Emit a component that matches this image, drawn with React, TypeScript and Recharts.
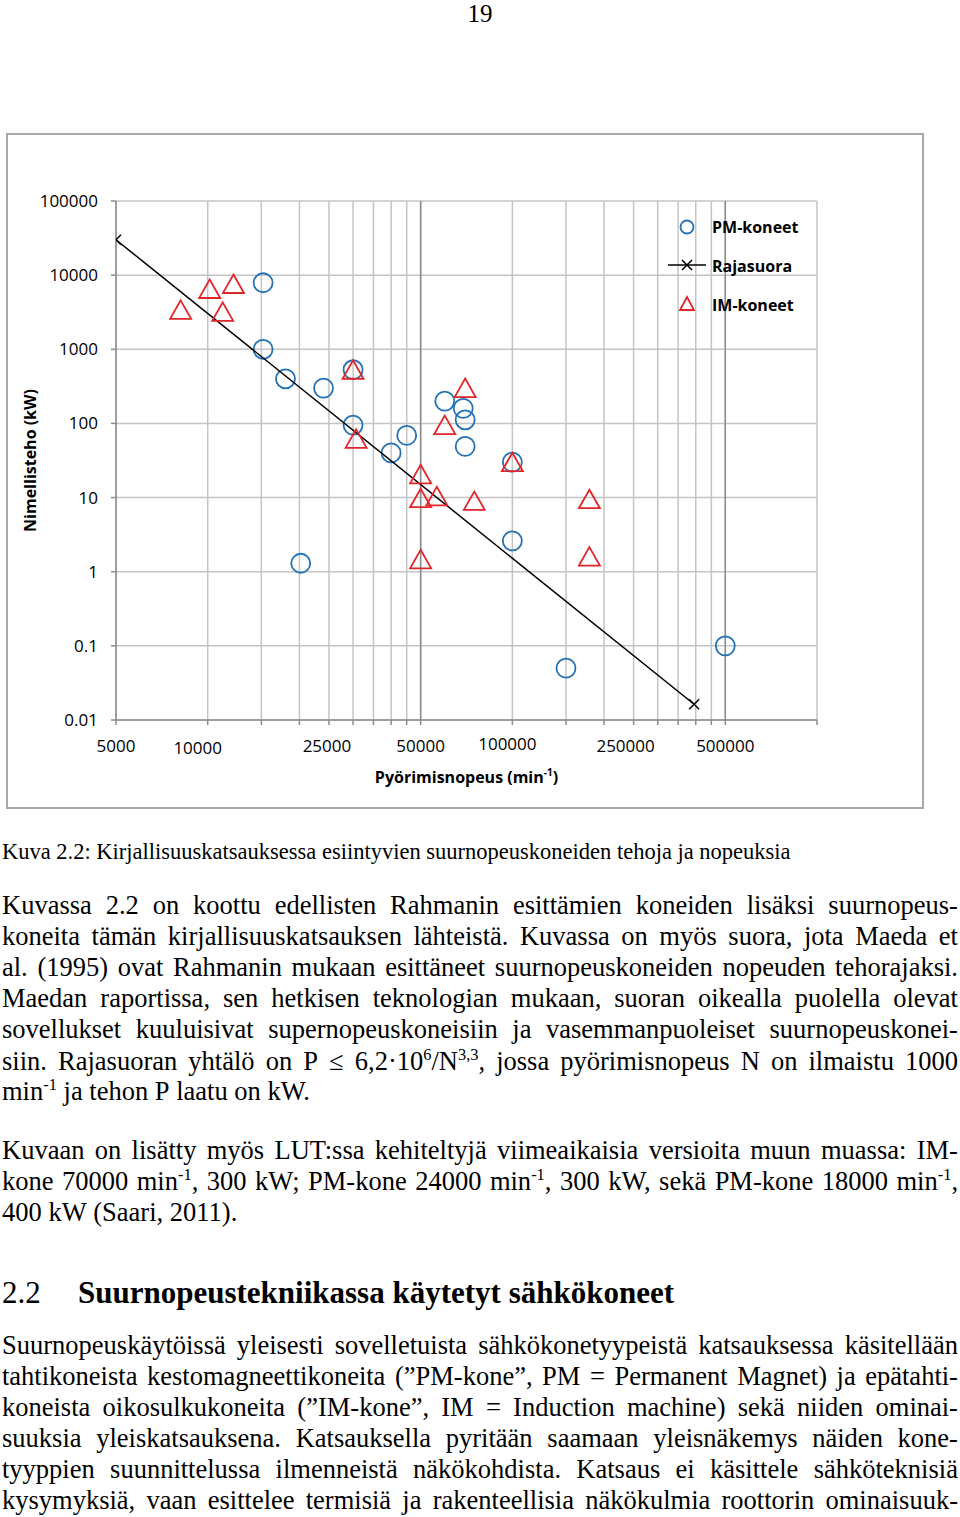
import React from 'react'
import { ScatterChart, Scatter, XAxis, YAxis, CartesianGrid, ReferenceLine, Legend, Label } from 'recharts'

// PM-koneet (blue circles)
const pmSpeed = [15200, 15200, 18000, 24000, 30000, 30000, 20200, 40000, 45000, 60000, 69000, 70000, 70000, 100000, 100000, 150000, 500000]
const pmPower = [7900, 1000, 400, 300, 530, 95, 1.3, 40, 69, 200, 160, 112, 49, 30, 2.6, 0.05, 0.1]

// IM-koneet (red triangles)
const imSpeed = [8150, 10150, 12150, 11200, 30000, 30700, 70000, 60000, 50000, 50000, 56500, 50000, 75000, 100000, 179000, 179000]
const imPower = [3400, 6500, 7600, 3200, 530, 62, 300, 95, 20.6, 9.8, 10.4, 1.47, 9, 30, 9.5, 1.6]

// Rajasuora end points
const rajaSpeed = [5000, 395000]
const rajaPower = [30000, 0.0163]

const seriesNames = ['PM-koneet', 'Rajasuora', 'IM-koneet']

const xGridTicks = [
  5000, 10000, 15000, 20000, 25000, 30000, 35000, 40000, 45000, 50000,
  100000, 150000, 200000, 250000, 300000, 350000, 400000, 450000, 500000, 1000000,
]
const xLabelTicks = [5000, 10000, 25000, 50000, 100000, 250000, 500000]
const xMajor = [50000, 500000]
const yTicks = [0.01, 0.1, 1, 10, 100, 1000, 10000, 100000]

const pmData = pmSpeed.map((n, i) => ({ n, p: pmPower[i] }))
const imData = imSpeed.map((n, i) => ({ n, p: imPower[i] }))
const rajaData = rajaSpeed.map((n, i) => ({ n, p: rajaPower[i] }))

const BLUE = '#2472b4'
const RED = '#e0262b'
const SANS = '"Open Sans", "Liberation Sans", sans-serif'
const SERIF = '"Liberation Serif", "Times New Roman", serif'

// small nudges so the x labels sit like the text boxes in the original
const labelShift: Record<number, [number, number]> = {
  10000: [-10, 2],
  25000: [-2, 0],
  100000: [-5, -2],
  250000: [-8, 0],
}

function XTick(props: any) {
  const { x, y, payload } = props
  const v = payload.value
  if (!xLabelTicks.includes(v)) return <g />
  const [dx, dy] = labelShift[v] ?? [0, 0]
  return (
    <text x={x + dx} y={y + dy} dy="0.71em" textAnchor="middle" fontSize={17} fontFamily={SANS} fill="#000">
      {v}
    </text>
  )
}

const Circle = (props: any) => (
  <circle cx={props.cx} cy={props.cy} r={9.5} fill="none" stroke={BLUE} strokeWidth={1.8} />
)
const Triangle = (props: any) => {
  const { cx, cy } = props
  return (
    <polygon
      points={`${cx},${cy - 9.5} ${cx + 10.5},${cy + 9} ${cx - 10.5},${cy + 9}`}
      fill="none"
      stroke={RED}
      strokeWidth={1.8}
    />
  )
}
const XMark = (props: any) => {
  const { cx, cy } = props
  return (
    <path d={`M${cx - 5},${cy - 5}L${cx + 5},${cy + 5}M${cx - 5},${cy + 5}L${cx + 5},${cy - 5}`} stroke="#000" strokeWidth={1.5} />
  )
}

function LegendBox() {
  return (
    <svg width={170} height={110} style={{ overflow: 'visible', display: 'block' }}>
      <circle cx={27} cy={17} r={6.5} fill="none" stroke={BLUE} strokeWidth={1.8} />
      <line x1={8} x2={46} y1={55} y2={55} stroke="#000" strokeWidth={1.5} />
      <path d="M22,50L32,60M22,60L32,50" stroke="#000" strokeWidth={1.5} />
      <polygon points="27,87 34,100 20,100" fill="none" stroke={RED} strokeWidth={1.8} />
      {seriesNames.map((s, i) => (
        <text key={s} x={52} y={17 + i * 39} dy="0.36em" fontSize={16} fontWeight="bold" fontFamily={SANS} fill="#000">
          {s}
        </text>
      ))}
    </svg>
  )
}

function YTitle(props: any) {
  const vb = props.viewBox
  const cy = vb.y + vb.height / 2
  return (
    <text x={30} y={cy} transform={`rotate(-90, 30, ${cy})`} textAnchor="middle" dy="0.36em" fontSize={16} fontWeight="bold" fontFamily={SANS} fill="#000">
      Nimellisteho (kW)
    </text>
  )
}

function XTitle(props: any) {
  const vb = props.viewBox
  const cx = vb.x + vb.width / 2
  return (
    <text x={cx} y={vb.y + 63} textAnchor="middle" fontSize={16} fontWeight="bold" fontFamily={SANS} fill="#000">
      Pyörimisnopeus (min
      <tspan dy={-7} fontSize={10}>-1</tspan>
      <tspan dy={7}>)</tspan>
    </text>
  )
}

// ---- page text ----
const caption = 'Kuva 2.2: Kirjallisuuskatsauksessa esiintyvien suurnopeuskoneiden tehoja ja nopeuksia'

const para1 = [
  'Kuvassa 2.2 on koottu edellisten Rahmanin esittämien koneiden lisäksi suurnopeus-',
  'koneita tämän kirjallisuuskatsauksen lähteistä. Kuvassa on myös suora, jota Maeda et',
  'al. (1995) ovat Rahmanin mukaan esittäneet suurnopeuskoneiden nopeuden tehorajaksi.',
  'Maedan raportissa, sen hetkisen teknologian mukaan, suoran oikealla puolella olevat',
  'sovellukset kuuluisivat supernopeuskoneisiin ja vasemmanpuoleiset suurnopeuskonei-',
  'siin. Rajasuoran yhtälö on P ≤ 6,2·10^{6}/N^{3,3}, jossa pyörimisnopeus N on ilmaistu 1000',
  'min^{-1} ja tehon P laatu on kW.',
]
const para1Y = [907, 938, 969, 1000, 1031, 1063, 1093]

const para2 = [
  'Kuvaan on lisätty myös LUT:ssa kehiteltyjä viimeaikaisia versioita muun muassa: IM-',
  'kone 70000 min^{-1}, 300 kW; PM-kone 24000 min^{-1}, 300 kW, sekä PM-kone 18000 min^{-1},',
  '400 kW (Saari, 2011).',
]
const para2Y = [1152, 1183, 1214]

const para3 = [
  'Suurnopeuskäytöissä yleisesti sovelletuista sähkökonetyypeistä katsauksessa käsitellään',
  'tahtikoneista kestomagneettikoneita (”PM-kone”, PM = Permanent Magnet) ja epätahti-',
  'koneista oikosulkukoneita (”IM-kone”, IM = Induction machine) sekä niiden ominai-',
  'suuksia yleiskatsauksena. Katsauksella pyritään saamaan yleisnäkemys näiden kone-',
  'tyyppien suunnittelussa ilmenneistä näkökohdista. Katsaus ei käsittele sähköteknisiä',
  'kysymyksiä, vaan esittelee termisiä ja rakenteellisia näkökulmia roottorin ominaisuuk-',
]
const para3Y = [1347, 1378, 1409, 1440, 1471, 1502]

function Word({ w }: { w: string }) {
  const parts = w.split(/(\^\{[^}]*\})/).filter(Boolean)
  return (
    <span>
      {parts.map((p, i) =>
        p.startsWith('^{') ? (
          <span key={i} style={{ fontSize: '0.62em', position: 'relative', top: '-0.6em' }}>
            {p.slice(2, -1)}
          </span>
        ) : (
          <span key={i}>{p}</span>
        ),
      )}
    </span>
  )
}

function TextLine({ text, cy, last, size = 26.5, width = 956 }: { text: string; cy: number; last?: boolean; size?: number; width?: number }) {
  const words = text.split(' ')
  return (
    <div
      style={{
        position: 'absolute',
        left: 2,
        top: cy - 17,
        width,
        height: 31,
        lineHeight: '31px',
        fontSize: size,
        fontFamily: SERIF,
        whiteSpace: 'nowrap',
        display: 'flex',
        justifyContent: last ? 'flex-start' : 'space-between',
        gap: last ? '0.25em' : 0,
      }}
    >
      {words.map((w, i) => (
        <Word key={i} w={w} />
      ))}
    </div>
  )
}

function Paragraph({ lines, ys, endsHere }: { lines: string[]; ys: number[]; endsHere: boolean }) {
  return (
    <>
      {lines.map((l, i) => (
        <TextLine key={i} text={l} cy={ys[i]} last={endsHere && i === lines.length - 1} />
      ))}
    </>
  )
}

export default function App() {
  return (
    <div style={{ position: 'absolute', left: 0, top: 0, width: 960, height: 1517, overflow: 'hidden', background: '#fff', color: '#000' }}>
      <div style={{ position: 'absolute', left: 0, top: 1, width: 960, textAlign: 'center', fontFamily: SERIF, fontSize: 25, lineHeight: '26px' }}>19</div>

      <div style={{ position: 'absolute', left: 6, top: 133, width: 918, height: 676, border: '2px solid #a8a8a8', boxSizing: 'border-box' }} />

      <div style={{ position: 'absolute', left: 0, top: 0 }}>
        <ScatterChart width={960} height={820} margin={{ top: 201, right: 143, bottom: 70, left: 56 }}>
          <CartesianGrid stroke="#c4c4c4" strokeWidth={1.5} />
          <XAxis
            dataKey="n"
            type="number"
            scale="log"
            domain={[5000, 1000000]}
            ticks={xGridTicks}
            interval={0}
            tick={<XTick />}
            tickSize={5}
            tickMargin={15}
            height={30}
            stroke="#8c8c8c"
            strokeWidth={1.5}
            allowDataOverflow
          >
            <Label content={<XTitle />} />
          </XAxis>
          <YAxis
            dataKey="p"
            type="number"
            scale="log"
            domain={[0.01, 100000]}
            ticks={yTicks}
            interval={0}
            tickFormatter={(v: number) => String(v)}
            tick={{ fontSize: 17, fontFamily: SANS, fill: '#000' }}
            tickSize={5}
            tickMargin={13}
            width={60}
            stroke="#8c8c8c"
            strokeWidth={1.5}
            allowDataOverflow
          >
            <Label content={<YTitle />} />
          </YAxis>
          {xMajor.map(v => (
            <ReferenceLine key={v} x={v} stroke="#8c8c8c" strokeWidth={1.5} />
          ))}
          <Legend
            content={<LegendBox />}
            layout="horizontal"
            verticalAlign="middle"
            align="center"
            wrapperStyle={{ left: 660, top: 210, width: 170, height: 110 }}
          />
          <Scatter name={seriesNames[0]} data={pmData} shape={Circle} isAnimationActive={false} />
          <Scatter
            name={seriesNames[1]}
            data={rajaData}
            shape={XMark}
            line={{ stroke: '#000', strokeWidth: 1.5 }}
            isAnimationActive={false}
          />
          <Scatter name={seriesNames[2]} data={imData} shape={Triangle} isAnimationActive={false} />
        </ScatterChart>
      </div>

      <div style={{ position: 'absolute', left: 2, top: 837, fontFamily: SERIF, fontSize: 22.5, lineHeight: '30px', whiteSpace: 'nowrap' }}>
        {caption}
      </div>

      <Paragraph lines={para1} ys={para1Y} endsHere />
      <Paragraph lines={para2} ys={para2Y} endsHere />

      <div style={{ position: 'absolute', left: 2, top: 1275, fontFamily: SERIF, fontSize: 31, lineHeight: '36px', whiteSpace: 'nowrap' }}>
        <span>2.2</span>
        <span style={{ position: 'absolute', left: 76, fontWeight: 'bold' }}>Suurnopeustekniikassa käytetyt sähkökoneet</span>
      </div>

      <Paragraph lines={para3} ys={para3Y} endsHere={false} />
    </div>
  )
}
